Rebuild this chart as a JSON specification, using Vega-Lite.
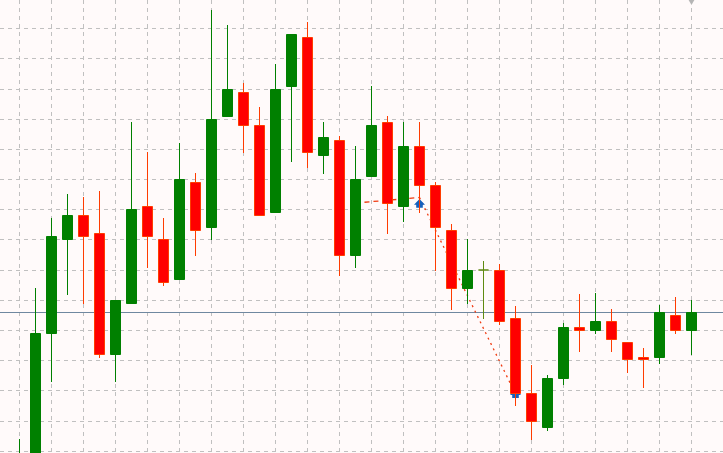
{"$schema":"https://vega.github.io/schema/vega-lite/v6.json","width":723,"height":453,"autosize":"none","padding":0,"background":"#fffafa","config":{"view":{"stroke":null}},
"datasets":{"candles":[
{"t":0,"d":"up","open":1.09735,"high":1.1014,"low":1.0968,"close":1.09925},
{"t":1,"d":"up","open":1.09785,"high":1.1165,"low":1.0973,"close":1.11195},
{"t":2,"d":"up","open":1.11195,"high":1.1235,"low":1.1071,"close":1.12165},
{"t":3,"d":"up","open":1.12135,"high":1.1259,"low":1.1158,"close":1.12375},
{"t":4,"d":"down","open":1.12375,"high":1.1256,"low":1.1149,"close":1.12165},
{"t":5,"d":"down","open":1.12195,"high":1.1262,"low":1.1095,"close":1.10985},
{"t":6,"d":"up","open":1.10985,"high":1.1153,"low":1.1071,"close":1.11525},
{"t":7,"d":"up","open":1.11495,"high":1.1331,"low":1.1149,"close":1.12435},
{"t":8,"d":"down","open":1.12465,"high":1.1301,"low":1.1185,"close":1.12165},
{"t":9,"d":"down","open":1.12135,"high":1.1235,"low":1.1167,"close":1.11705},
{"t":10,"d":"up","open":1.11735,"high":1.131,"low":1.1173,"close":1.12735},
{"t":11,"d":"down","open":1.12705,"high":1.128,"low":1.1197,"close":1.12225},
{"t":12,"d":"up","open":1.12255,"high":1.1443,"low":1.1213,"close":1.13335},
{"t":13,"d":"up","open":1.13365,"high":1.1428,"low":1.1336,"close":1.13635},
{"t":14,"d":"down","open":1.13605,"high":1.137,"low":1.13,"close":1.13275},
{"t":15,"d":"down","open":1.13275,"high":1.1346,"low":1.1237,"close":1.12375},
{"t":16,"d":"up","open":1.12405,"high":1.1389,"low":1.124,"close":1.13635},
{"t":17,"d":"up","open":1.13665,"high":1.1419,"low":1.1291,"close":1.14185},
{"t":18,"d":"down","open":1.14155,"high":1.1431,"low":1.1285,"close":1.13005},
{"t":19,"d":"up","open":1.12975,"high":1.1331,"low":1.1279,"close":1.13155},
{"t":20,"d":"down","open":1.13125,"high":1.1317,"low":1.1177,"close":1.11975},
{"t":21,"d":"up","open":1.11975,"high":1.1307,"low":1.1185,"close":1.12735},
{"t":22,"d":"up","open":1.12765,"high":1.1367,"low":1.1276,"close":1.13275},
{"t":23,"d":"down","open":1.13305,"high":1.1337,"low":1.1219,"close":1.12495},
{"t":24,"d":"up","open":1.12465,"high":1.1331,"low":1.1231,"close":1.13065},
{"t":25,"d":"down","open":1.13065,"high":1.1331,"low":1.124,"close":1.12675},
{"t":26,"d":"down","open":1.12675,"high":1.1271,"low":1.1182,"close":1.12255},
{"t":27,"d":"down","open":1.12225,"high":1.1229,"low":1.1143,"close":1.11645},
{"t":28,"d":"up","open":1.11645,"high":1.1214,"low":1.1149,"close":1.11825},
{"t":29,"d":"flat","open":1.1183,"high":1.1192,"low":1.1134,"close":1.1183},
{"t":30,"d":"down","open":1.11825,"high":1.1189,"low":1.1128,"close":1.11315},
{"t":31,"d":"down","open":1.11345,"high":1.1147,"low":1.1047,"close":1.10595},
{"t":32,"d":"down","open":1.10595,"high":1.1088,"low":1.1013,"close":1.10315},
{"t":33,"d":"up","open":1.10255,"high":1.1078,"low":1.1022,"close":1.10745},
{"t":34,"d":"up","open":1.10745,"high":1.113,"low":1.1068,"close":1.11255},
{"t":35,"d":"down","open":1.11255,"high":1.1159,"low":1.1101,"close":1.11225},
{"t":36,"d":"up","open":1.11225,"high":1.116,"low":1.1119,"close":1.11315},
{"t":37,"d":"down","open":1.11315,"high":1.1144,"low":1.1101,"close":1.11135},
{"t":38,"d":"down","open":1.11105,"high":1.1111,"low":1.108,"close":1.10935},
{"t":39,"d":"down","open":1.10955,"high":1.1105,"low":1.1065,"close":1.10935},
{"t":40,"d":"up","open":1.10955,"high":1.1148,"low":1.1089,"close":1.11405},
{"t":41,"d":"down","open":1.11375,"high":1.1156,"low":1.1119,"close":1.11225},
{"t":42,"d":"up","open":1.11225,"high":1.1153,"low":1.1098,"close":1.11405}
],
"bid":[{"level":1.11405}],
"tradeA":[{"t":21,"price":1.1250},{"t":25,"price":1.12555}],
"tradeB":[{"t":25,"price":1.12555},{"t":31,"price":1.1059}],
"arrows":[{"t":25,"price":1.12497},{"t":31,"price":1.10595}],
"marker":[{"t":42,"price":1.14515}]},
"layer":[
{"data":{"name":"bid"},"mark":{"type":"rule","color":"#6f88a0","strokeWidth":1},
"encoding":{"y":{"field":"level","type":"quantitative","scale":{"domain":[1.1,1.1453],"zero":false,"nice":false},
"axis":{"title":null,"domain":false,"ticks":false,"labels":false,"grid":true,"gridColor":"#c0c0c0","gridDash":[4,4],"gridWidth":1,"tickRound":false,"translate":0,"tickCount":100,
"values":[1.14245,1.13945,1.13635,1.13335,1.13035,1.12735,1.12435,1.12135,1.11825,1.11525,1.11225,1.10925,1.10625,1.10315,1.10015]}}}},
{"data":{"name":"tradeA"},"mark":{"type":"line","color":"#f03a10","strokeWidth":1.3,"strokeDash":[5,4]},
"encoding":{"x":{"field":"t","type":"quantitative"},"y":{"field":"price","type":"quantitative"}}},
{"data":{"name":"tradeB"},"mark":{"type":"line","color":"#f03a10","strokeWidth":1.3,"strokeDash":[2,4]},
"encoding":{"x":{"field":"t","type":"quantitative"},"y":{"field":"price","type":"quantitative"}}},
{"data":{"name":"arrows"},"mark":{"type":"point","filled":true,"color":"#1560bd","opacity":1,"size":121,"shape":"M0,-0.8L1,0.25L0.6,0.25L0.6,0.8L-0.6,0.8L-0.6,0.25L-1,0.25Z"},
"encoding":{"x":{"field":"t","type":"quantitative"},"y":{"field":"price","type":"quantitative"}}},
{"data":{"name":"marker"},"mark":{"type":"point","filled":true,"color":"#b5b5b5","opacity":1,"size":64,"shape":"triangle-down"},
"encoding":{"x":{"field":"t","type":"quantitative"},"y":{"field":"price","type":"quantitative"}}},
{"data":{"name":"candles"},"mark":{"type":"rule","strokeWidth":1,"clip":true},
"encoding":{"x":{"field":"t","type":"quantitative","scale":{"domain":[-1.21875,43.96875],"nice":false,"zero":false,"padding":0},
"axis":{"title":null,"domain":false,"ticks":false,"labels":false,"grid":true,"gridColor":"#c0c0c0","gridDash":[4,4],"gridWidth":1,"tickRound":false,"translate":0,"tickCount":100,
"values":[0,2,4,6,8,10,12,14,16,18,20,22,24,26,28,30,32,34,36,38,40,42]}},"y":{"field":"low","type":"quantitative"},"y2":{"field":"high"},
"color":{"field":"d","type":"nominal","legend":null,"scale":{"domain":["up","down","flat"],"range":["#008000","#ff3c00","#5f8a10"]}}}},
{"data":{"name":"candles"},"mark":{"type":"bar","size":10,"strokeWidth":1,"clip":true},
"encoding":{"x":{"field":"t","type":"quantitative"},"y":{"field":"open","type":"quantitative"},"y2":{"field":"close"},
"fill":{"field":"d","type":"nominal","legend":null,"scale":{"domain":["up","down","flat"],"range":["#008000","#ff0000","#5f8a10"]}},
"stroke":{"field":"d","type":"nominal","legend":null,"scale":{"domain":["up","down","flat"],"range":["#008000","#ff3c00","#5f8a10"]}}}}
]}
